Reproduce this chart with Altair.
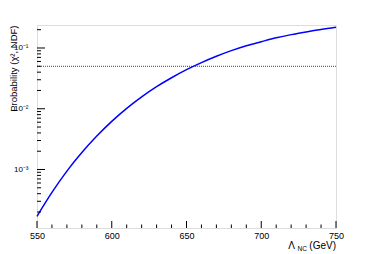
import altair as alt
import pandas as pd

# Curve: Lambda_NC (GeV) vs probability
lam = [550, 560, 570, 580, 590, 600, 610, 620, 630, 640, 650,
       660, 670, 680, 690, 700, 710, 720, 730, 740, 750]
prob = [1.70e-4, 4.20e-4, 9.40e-4, 1.90e-3, 3.55e-3, 6.20e-3, 0.01016,
        0.0157, 0.0231, 0.0324, 0.0440, 0.0575, 0.0731, 0.0904, 0.109,
        0.127, 0.147, 0.166, 0.184, 0.202, 0.219]
threshold = [0.05]

x_major = [550, 600, 650, 700, 750]
x_minor = [560, 570, 580, 590, 610, 620, 630, 640, 660, 670, 680, 690,
           710, 720, 730, 740]
y_major = [1e-3, 1e-2, 1e-1]
y_minor = [2e-4, 3e-4, 4e-4, 5e-4, 6e-4, 7e-4, 8e-4, 9e-4,
           2e-3, 3e-3, 4e-3, 5e-3, 6e-3, 7e-3, 8e-3, 9e-3,
           2e-2, 3e-2, 4e-2, 5e-2, 6e-2, 7e-2, 8e-2, 9e-2, 2e-1]

W, H = 299, 203
FONT = "Liberation Sans"

xs = alt.Scale(domain=[550, 750], nice=False, zero=False)
ys = alt.Scale(type="log", domain=[1.09e-4, 0.239], nice=False)

curve_df = pd.DataFrame({"lam": lam, "prob": prob})

label_expr = ("datum.value < 0.005 ? '10⁻³' : "
              "(datum.value < 0.05 ? '10⁻²' : '10⁻¹')")

curve = alt.Chart(curve_df).mark_line(color="#0000ff", strokeWidth=1.5,
                                      interpolate="monotone").encode(
    x=alt.X("lam:Q", scale=xs,
            axis=alt.Axis(values=x_major, title=None, ticks=False, domain=False,
                          grid=False, labelFontSize=9, labelPadding=3,
                          labelColor="black", labelFont=FONT, labelFlush=False,
                          labelOverlap=False, format="d")),
    y=alt.Y("prob:Q", scale=ys,
            axis=alt.Axis(values=y_major, labelExpr=label_expr, ticks=False,
                          domain=False, grid=False, labelFontSize=8,
                          labelPadding=9, labelColor="black", labelFont=FONT,
                          title="Probability (χ², NDF)", titleFont=FONT,
                          titleFontSize=9.5, titleFontWeight="normal",
                          titleColor="black", titleAngle=-90,
                          titleAlign="right", titleBaseline="bottom",
                          titleX=-19, titleY=0)),
)

thr = alt.Chart(pd.DataFrame({"p": threshold})).mark_rule(
    color="#444444", strokeWidth=1, strokeDash=[1, 1]).encode(
    y=alt.Y("p:Q", scale=ys))

xmaj = alt.Chart(pd.DataFrame({"v": x_major})).mark_rule(
    color="black", strokeWidth=1).encode(
    x=alt.X("v:Q", scale=xs), y=alt.value(H), y2=alt.value(H - 7))
xmin = alt.Chart(pd.DataFrame({"v": x_minor})).mark_rule(
    color="black", strokeWidth=1).encode(
    x=alt.X("v:Q", scale=xs), y=alt.value(H), y2=alt.value(H - 3.5))
ymaj = alt.Chart(pd.DataFrame({"v": y_major})).mark_rule(
    color="black", strokeWidth=1).encode(
    y=alt.Y("v:Q", scale=ys), x=alt.value(0), x2=alt.value(8))
ymin = alt.Chart(pd.DataFrame({"v": y_minor})).mark_rule(
    color="black", strokeWidth=1).encode(
    y=alt.Y("v:Q", scale=ys), x=alt.value(0), x2=alt.value(4))

t1 = alt.Chart().mark_text(text="Λ", font=FONT, fontSize=10, align="right",
                           baseline="alphabetic", color="black").encode(
    x=alt.value(258), y=alt.value(224))
t2 = alt.Chart().mark_text(text="NC", font=FONT, fontSize=6.5, align="right",
                           baseline="alphabetic", color="black").encode(
    x=alt.value(270), y=alt.value(226))
t3 = alt.Chart().mark_text(text="(GeV)", font=FONT, fontSize=10, align="right",
                           baseline="alphabetic", color="black").encode(
    x=alt.value(299), y=alt.value(224))

chart = alt.layer(thr, curve, xmaj, xmin, ymaj, ymin, t1, t2, t3).properties(
    width=W, height=H,
    autosize=alt.AutoSizeParams(type="none"),
    padding={"left": 29, "top": 17, "right": 30, "bottom": 26},
).configure_view(stroke="black", strokeWidth=1).configure(background="white")

chart.save("out.html", embed_options={"renderer": "svg", "actions": False})
